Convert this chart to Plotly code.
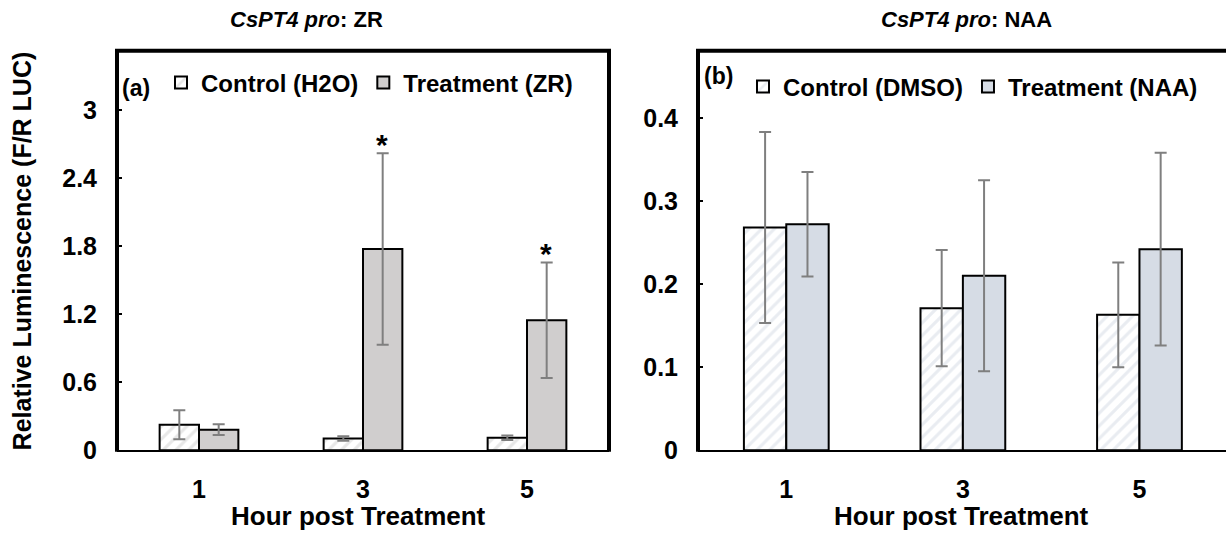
import plotly.graph_objects as go

# ---------------- data ----------------
hours = ["1", "3", "5"]

zr_control = [0.225, 0.103, 0.110]
zr_control_err = [0.128, 0.020, 0.020]
zr_treat = [0.181, 1.776, 1.147]
zr_treat_err = [0.047, 0.845, 0.510]
zr_signif = [False, True, True]

naa_control = [0.268, 0.171, 0.163]
naa_control_err = [0.115, 0.070, 0.063]
naa_treat = [0.272, 0.210, 0.242]
naa_treat_err = [0.063, 0.115, 0.116]

left_ticks = [0, 0.6, 1.2, 1.8, 2.4, 3]
left_ticktext = ["0", "0.6", "1.2", "1.8", "2.4", "3"]
right_ticks = [0, 0.1, 0.2, 0.3, 0.4]
right_ticktext = ["0", "0.1", "0.2", "0.3", "0.4"]

# ---------------- layout helpers ----------------
W, H = 1226, 548
FONT = "Liberation Sans, Arial, sans-serif"


def px(x):
    return x / W


def py(y):
    return 1 - y / H


L_X0, L_X1 = px(117), px(609)
R_X0, R_X1 = px(698), 1.0
Y0, Y1 = py(462), py(52)

ERR_COLOR = "#7f7f7f"


def f(size):
    return dict(family=FONT, size=size, color="black", weight="bold")


def err(vals):
    return dict(type="data", array=vals, visible=True, color=ERR_COLOR,
                thickness=2, width=6)


fig = go.Figure()
fig.add_trace(go.Bar(
    x=hours, y=zr_control, name="Control (H2O)", error_y=err(zr_control_err),
    marker=dict(color="white", line=dict(color="black", width=2),
                pattern=dict(shape="/", fgcolor="#cfcfcf", bgcolor="white",
                             size=9, solidity=0.35, fillmode="overlay")),
    xaxis="x", yaxis="y", legend="legend"))
fig.add_trace(go.Bar(
    x=hours, y=zr_treat, name="Treatment (ZR)", error_y=err(zr_treat_err),
    marker=dict(color="#d0cece", line=dict(color="black", width=2)),
    xaxis="x", yaxis="y", legend="legend"))
fig.add_trace(go.Bar(
    x=hours, y=naa_control, name="Control (DMSO)", error_y=err(naa_control_err),
    marker=dict(color="white", line=dict(color="black", width=2),
                pattern=dict(shape="/", fgcolor="#d3dae4", bgcolor="white",
                             size=9, solidity=0.35, fillmode="overlay")),
    xaxis="x2", yaxis="y2", legend="legend2"))
fig.add_trace(go.Bar(
    x=hours, y=naa_treat, name="Treatment (NAA)", error_y=err(naa_treat_err),
    marker=dict(color="#d6dce5", line=dict(color="black", width=2)),
    xaxis="x2", yaxis="y2", legend="legend2"))

fig.update_layout(
    width=W, height=H, margin=dict(l=0, r=0, t=0, b=0),
    plot_bgcolor="white", paper_bgcolor="white",
    barmode="group", bargap=0.52, bargroupgap=0,
    showlegend=True,
    xaxis=dict(domain=[L_X0, L_X1], type="category", range=[-0.5, 2.5],
               showline=True, linecolor="black", linewidth=2, ticks="",
               tickfont=f(25), ticklabelstandoff=16,
               showgrid=False, zeroline=False, anchor="y"),
    yaxis=dict(domain=[Y0, Y1], range=[0, 3.525], tickvals=left_ticks,
               ticktext=left_ticktext,
               ticks="inside", ticklen=5, tickwidth=2, tickcolor="black",
               tickfont=f(25), ticklabelstandoff=19, showline=False,
               showgrid=False, zeroline=False, anchor="x"),
    xaxis2=dict(domain=[R_X0, R_X1], type="category", range=[-0.5, 2.49],
                showline=True, linecolor="black", linewidth=2, ticks="",
                tickfont=f(25), ticklabelstandoff=16,
                showgrid=False, zeroline=False, anchor="y2"),
    yaxis2=dict(domain=[Y0, Y1], range=[0, 0.481], tickvals=right_ticks,
                ticktext=right_ticktext,
                ticks="inside", ticklen=5, tickwidth=2, tickcolor="black",
                tickfont=f(25), ticklabelstandoff=19, showline=False,
                showgrid=False, zeroline=False, anchor="x2"),
    legend=dict(orientation="h", x=px(161), y=py(62), xanchor="left", yanchor="top",
                font=f(24), bgcolor="rgba(0,0,0,0)", itemwidth=30,
                traceorder="normal"),
    legend2=dict(orientation="h", x=px(743), y=py(66), xanchor="left", yanchor="top",
                 font=f(24), bgcolor="rgba(0,0,0,0)", itemwidth=30,
                 traceorder="normal"),
)


# frames (thick black borders)
def pth(pts):
    return "M " + " L ".join("%f,%f" % p for p in pts)


fig.add_shape(type="path", xref="paper", yref="paper",
              path=pth([(L_X0, Y0 - 0.003), (L_X0, Y1), (L_X1, Y1), (L_X1, Y0 - 0.003)]),
              line=dict(color="black", width=4))
fig.add_shape(type="path", xref="paper", yref="paper",
              path=pth([(R_X0, Y0 - 0.003), (R_X0, Y1), (R_X1 + 0.01, Y1)]),
              line=dict(color="black", width=4))

# significance stars (category axis annotations use category index)
for i, (v, e, s) in enumerate(zip(zr_treat, zr_treat_err, zr_signif)):
    if s:
        fig.add_annotation(x=i, y=v + e, xref="x", yref="y", text="*",
                           showarrow=False, xanchor="center", yanchor="bottom",
                           xshift=19, yshift=-10, font=f(30))


def label(x, y, text, size, angle=0):
    fig.add_annotation(x=px(x), y=py(y), xref="paper", yref="paper", text=text,
                       textangle=angle, showarrow=False, xanchor="center",
                       yanchor="middle", font=f(size))


# axis titles
label(22, 258, "Relative Luminescence (F/R LUC)", 25, angle=-90)
label(358, 530, "Hour post Treatment", 26)
label(962, 530, "Hour post Treatment", 26)

# panel titles and letters
label(306, 20, "<i>CsPT4 pro</i>: ZR", 22)
label(966, 20, "<i>CsPT4 pro</i>: NAA", 22)
label(136, 90, "(a)", 23)
label(718, 78, "(b)", 23)

# page fits the window exactly: no default body margin, no overflow
page_css = (
    "var de=document.documentElement, b=document.body;"
    "de.style.margin='0';de.style.padding='0';de.style.overflow='hidden';"
    "b.style.margin='0';b.style.padding='0';b.style.overflow='hidden';"
)
fig.write_html("out.html", config={"displayModeBar": False}, post_script=page_css)
